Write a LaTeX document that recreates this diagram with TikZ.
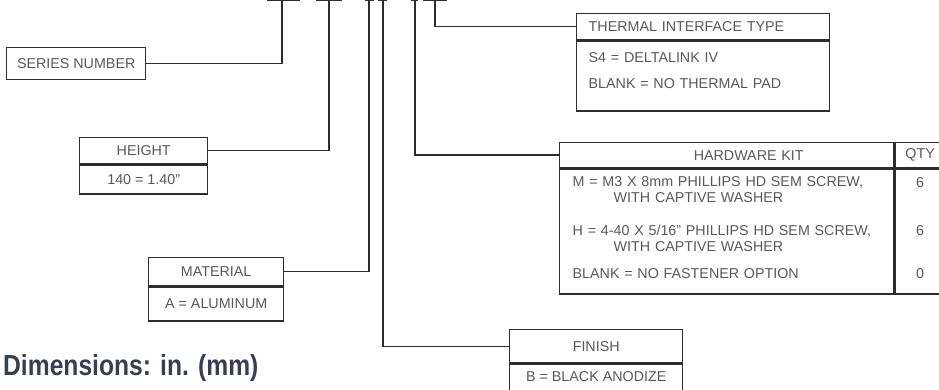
\documentclass[tikz,border=0pt]{standalone}
\usepackage{fontspec}
\setmainfont{Liberation Sans}
\newfontfamily\dimfont[FakeStretch=0.85]{Liberation Sans}
\usetikzlibrary{positioning}
\definecolor{linegray}{RGB}{45,45,45}
\definecolor{textgray}{RGB}{88,88,88}
\definecolor{dimblue}{RGB}{58,62,84}

\begin{document}
\begin{tikzpicture}[
  x=1pt, y=1pt,
  font=\fontsize{14.3}{16}\selectfont,
  box/.style={draw=linegray, line width=1.4pt, text=textgray, inner sep=0pt, align=center},
  leftbox/.style={box, align=left},
  leader/.style={draw=linegray, line width=1.4pt},
  dims/.style={font=\dimfont\bfseries\fontsize{29}{32}\selectfont, text=dimblue, inner sep=0pt}
]
\useasboundingbox (0,0) rectangle (939,-390);
\clip (0,0) rectangle (939,-390);

% part number fields
\coordinate (pseries) at (282,-0.5);
\coordinate (pheight) at (329,-0.5);
\coordinate (pmat) at (369,-0.5);
\coordinate (pfin) at (383,-0.5);
\coordinate (phw) at (415,-0.5);
\coordinate (ptherm) at (435,-0.5);

\draw[leader] ([xshift=-15pt]pseries) -- ([xshift=18pt]pseries);
\draw[leader] ([xshift=-13pt]pheight) -- ([xshift=13pt]pheight);
\draw[leader] ([xshift=-4pt]pmat) -- ([xshift=5pt]pmat);
\draw[leader] ([xshift=-5pt]pfin) -- ([xshift=4pt]pfin);
\draw[leader] ([xshift=-4pt]phw) -- ([xshift=3pt]phw);
\draw[leader] ([xshift=-12pt]ptherm) -- ([xshift=12pt]ptherm);

% option boxes
\node[box, anchor=north west, minimum width=139, minimum height=32] (series) at (6,-47) {SERIES NUMBER};

\node[box, anchor=north west, minimum width=128, minimum height=26] (height) at (79,-137) {HEIGHT};
\node[box, below=0pt of height, minimum width=128, minimum height=29] (heightval) {140 = 1.40"};

\node[box, anchor=north west, minimum width=135, minimum height=28] (material) at (148,-257) {MATERIAL};
\node[box, below=0pt of material, minimum width=135, minimum height=34] (materialval) {A = ALUMINUM};

\node[box, anchor=north west, minimum width=173, minimum height=33] (finish) at (509,-329) {FINISH};
\node[box, below=0pt of finish, minimum width=173, text height=17pt, text depth=20pt] (finishval) {B = BLACK ANODIZE};

\node[leftbox, anchor=north west, text width=229, inner xsep=12pt, minimum height=26] (therm) at (576,-13) {THERMAL INTERFACE TYPE};
\node[leftbox, below=0pt of therm, text width=229, inner xsep=12pt, minimum height=70] (thermval) {
  S4 = DELTALINK IV\\[10pt]
  BLANK = NO THERMAL PAD\\[-4pt]
  \mbox{}
};

\node[box, anchor=north west, text width=334, minimum height=25] (hwhead) at (559,-142) {\hspace*{44pt}HARDWARE KIT};
\node[box, right=0pt of hwhead, minimum width=50, minimum height=25] (qtyhead) {QTY};
\node[leftbox, below=0pt of hwhead, text width=308, inner xsep=13pt, minimum height=125] (hwbody) {
  M = M3 X 8mm PHILLIPS HD SEM SCREW,\\
  \hspace*{41pt}WITH CAPTIVE WASHER\\[17pt]
  H = 4-40 X 5/16" PHILLIPS HD SEM SCREW,\\
  \hspace*{41pt}WITH CAPTIVE WASHER\\[11pt]
  BLANK = NO FASTENER OPTION\\[-8pt]
  \mbox{}
};
\node[box, below=0pt of qtyhead, minimum width=50, minimum height=125] (qtybody) {
  6\\[32pt]
  6\\[27pt]
  0\\[-8pt]
  \mbox{}
};

% leaders
\draw[leader] (pseries) |- (series);
\draw[leader] (pheight) |- (height);
\draw[leader] (pmat) |- (material);
\draw[leader] (pfin) |- (finish);
\draw[leader] (phw) |- (hwhead);
\draw[leader] (ptherm) |- (therm);

\node[dims, anchor=base west] (dimnote) at (3,-375) {Dimensions: in. (mm)};

\end{tikzpicture}
\end{document}
